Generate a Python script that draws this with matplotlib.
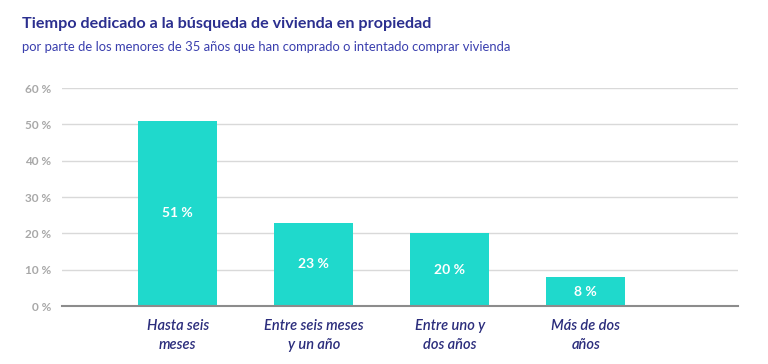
import matplotlib.pyplot as plt

categories = ["Hasta seis\nmeses", "Entre seis meses\ny un año", "Entre uno y\ndos años", "Más de dos\naños"]
values = [51, 23, 20, 8]
yticks = [0, 10, 20, 30, 40, 50, 60]

plt.rcParams['font.family'] = ['Lato', 'DejaVu Sans']

fig = plt.figure(figsize=(7.68, 3.64), dpi=100)
ax = fig.add_axes([0.081, 0.159, 0.88, 0.599])

x = list(range(len(categories)))
ax.bar(x, values, width=0.58, color="#1fd9cc", zorder=3)
for xi, v in zip(x, values):
    ax.text(xi, v / 2, str(v) + " %", ha="center", va="center", color="white",
            fontsize=10, fontweight="bold", zorder=4)

ax.set_xlim(-0.85, 4.12)
ax.set_ylim(0, 60)
ax.set_yticks(yticks)
ax.set_yticklabels([str(t) + " %" for t in yticks], color="#a8a8a8", fontsize=8.5, fontweight="bold")
ax.grid(axis="y", color="#d9d9d9", linewidth=1, zorder=0)
ax.tick_params(axis="y", length=0, pad=8)
ax.tick_params(axis="x", length=0, pad=9)
ax.set_xticks(x)
ax.set_xticklabels(categories, fontsize=10.5, style="italic", fontweight="semibold",
                   color="#2b2d7c", linespacing=1.45)
for s in ["top", "right", "left"]:
    ax.spines[s].set_visible(False)
ax.spines["bottom"].set_color("#8c8c8c")
ax.spines["bottom"].set_linewidth(1.5)
ax.spines["bottom"].set_zorder(5)

fig.text(0.029, 0.935, "Tiempo dedicado a la búsqueda de vivienda en propiedad",
         fontsize=11.6, fontweight="bold", color="#2b2f8f", va="center")
fig.text(0.029, 0.872, "por parte de los menores de 35 años que han comprado o intentado comprar vivienda",
         fontsize=9.4, color="#3a3fae", va="center")

fig.savefig("out.png", dpi=100)
